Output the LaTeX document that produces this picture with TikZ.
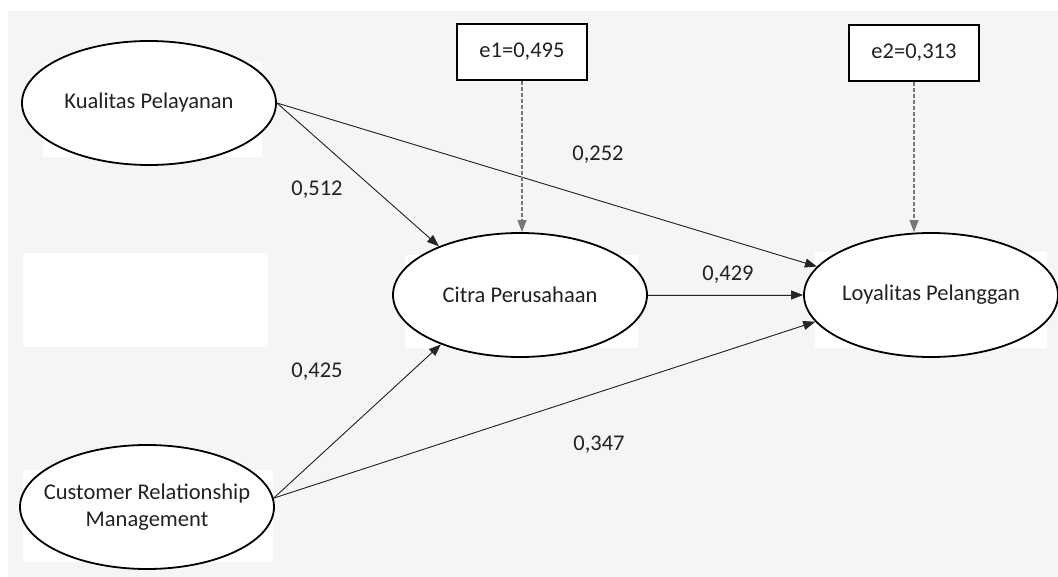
\documentclass[tikz,border=0pt]{standalone}
\usepackage{fontspec}
\setmainfont{Carlito}
\usepackage{tikz}
\usetikzlibrary{shapes,arrows.meta,positioning,calc}
\definecolor{bggray}{RGB}{245,245,245}
\definecolor{txtgray}{RGB}{34,34,34}
\definecolor{dashgray}{RGB}{120,120,120}

\begin{document}
\begin{tikzpicture}[
    x=1pt, y=-1pt,
    font=\fontsize{22.5}{27}\selectfont,
    latent/.style={ellipse, draw, line width=1.8pt, fill=white, minimum width=254pt, minimum height=124pt, inner sep=0pt, text=txtgray, align=center},
    errbox/.style={rectangle, draw, line width=1.4pt, fill=white, minimum width=130pt, minimum height=56pt, text=txtgray},
    coef/.style={text=txtgray, inner sep=0pt},
    arrow/.style={-{Triangle[length=12pt,width=9pt]}, line width=0.9pt, draw=black!85, fill=black},
    dasharrow/.style={-{Triangle[length=12pt,width=9pt]}, line width=1.1pt, draw=dashgray, dash pattern=on 4pt off 2pt}
]
\useasboundingbox (0,0) rectangle (1058,577);

% Background
\fill[bggray] (8,11) rectangle (1058,577);
\fill[white] (23,253) rectangle (268,347);
\fill[white] (43,62) rectangle (262,157);
\fill[white] (405,255) rectangle (638,348);
\fill[white] (815,252) rectangle (1047,348);
\fill[white] (23,470) rectangle (273,562);

% Nodes
\node[latent] (kp) at (149,103) {Kualitas Pelayanan};
\node[latent] (cp) at (520,295) {Citra Perusahaan};
\node[latent] (lp) at (931,295) {Loyalitas Pelanggan};
\node[latent, inner xsep=-14pt] (crm) at (147,507) {Customer Relationship\\Management};
\node[errbox] (e1) at (522,52) {e1=0,495};
\node[errbox] (e2) at (914,53) {e2=0,313};

% Coefficients
\node[coef] (c512) at (317,190) {0,512};
\node[coef] (c252) at (598,155) {0,252};
\node[coef] (c429) at (728,275) {0,429};
\node[coef] (c425) at (317,372) {0,425};
\node[coef] (c347) at (599,445) {0,347};

% Arrows
\draw[arrow] (kp.east) -- (cp.149);
\draw[arrow] (kp.east) -- (lp.166);
\draw[arrow] (cp.east) -- (lp.west);
\draw[arrow] (crm.4) -- (cp.212);
\draw[arrow] (crm.4) -- (lp.193);
\draw[dasharrow] (e1.south) -- (e1.south |- cp.north);
\draw[dasharrow] (e2.south) -- (e2.south |- lp.north);

\end{tikzpicture}
\end{document}
